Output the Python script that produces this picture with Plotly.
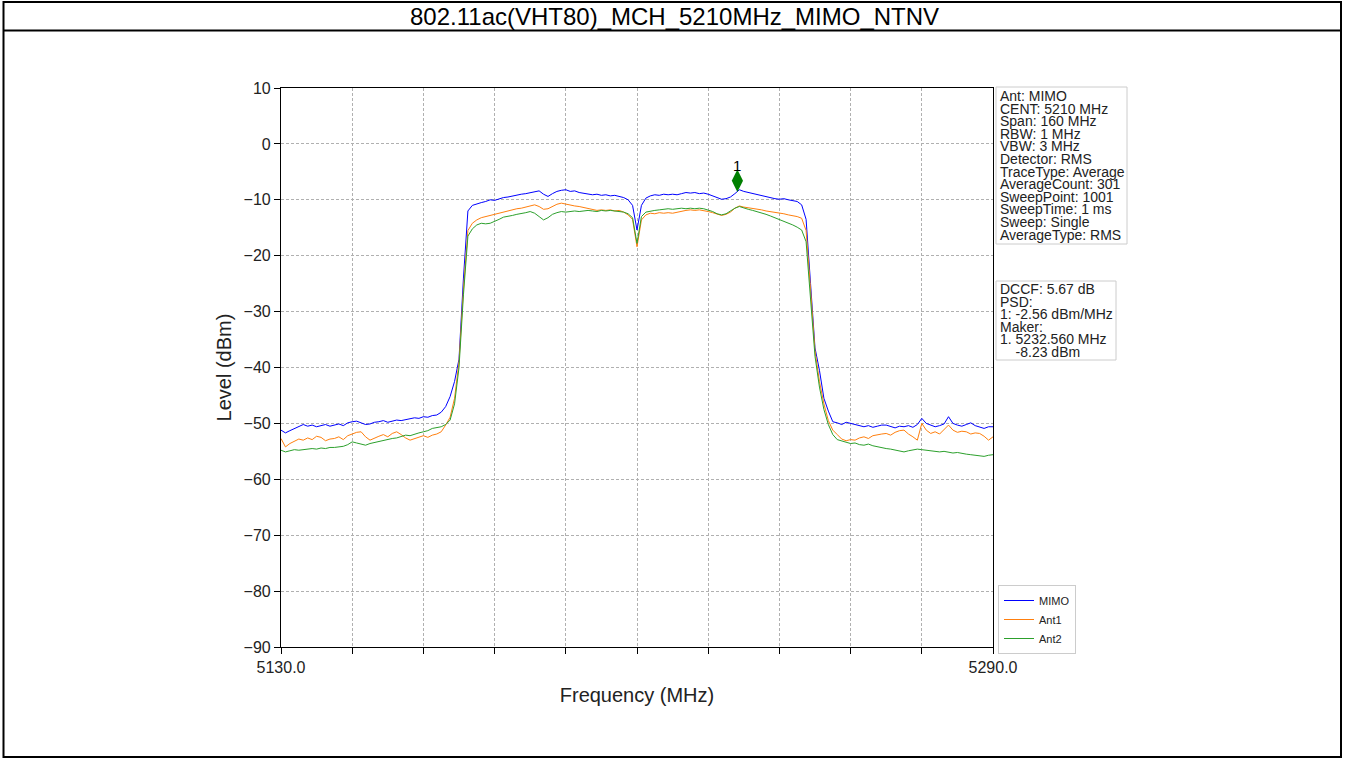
import plotly.graph_objects as go

# ---------------- data ----------------
freq_start = 5130
freq_stop = 5290
freq_mhz = list(range(freq_start, freq_stop + 1))  # 1 MHz spacing

mimo_dbm = [
    -51.2, -51.7, -51.3, -50.9, -50.6, -50.2, -50.5, -50.3, -50.6, -50.4,
    -50.2, -50.5, -50.3, -50.1, -50.4, -49.9, -49.7, -49.6, -49.9, -50.2,
    -50.1, -49.8, -49.7, -49.5, -49.8, -49.6, -49.4, -49.5, -49.3, -49.2,
    -49.0, -49.1, -48.8, -48.9, -48.6, -48.5, -48.0, -47.0, -45.2, -42.5,
    -38.5, -24.0, -12.0, -11.0, -10.7, -10.5, -10.3, -10.0, -10.1, -9.8,
    -9.6, -9.5, -9.3, -9.1, -9.0, -8.9, -8.7, -8.5, -8.4, -9.0,
    -9.4, -8.9, -8.5, -8.3, -8.2, -8.5, -8.4, -8.7, -8.8, -8.9,
    -9.1, -9.0, -9.2, -9.1, -9.3, -9.2, -9.4, -9.6, -10.0, -11.0,
    -15.4, -11.0, -9.7, -9.3, -9.1, -9.2, -9.0, -9.1, -9.0, -9.1,
    -8.9, -8.7, -8.8, -8.7, -8.9, -8.8, -9.0, -9.3, -9.6, -9.9,
    -9.8, -9.5, -8.9, -8.2, -8.5, -8.7, -8.8, -9.0, -9.2, -9.4,
    -9.6, -9.8, -9.9, -9.8, -10.0, -10.1, -10.3, -10.9, -13.5, -25.0,
    -36.5, -40.5, -45.5, -47.8, -49.7, -49.9, -50.2, -49.8, -50.0, -50.3,
    -50.5, -50.6, -50.4, -50.7, -50.5, -50.3, -50.3, -50.6, -50.8, -50.5,
    -50.6, -50.4, -50.7, -50.2, -49.1, -50.0, -50.3, -50.6, -50.4, -50.1,
    -48.8, -50.0, -50.3, -50.5, -50.2, -49.9, -50.4, -50.7, -50.9, -50.6,
    -50.6,
]

ant1_dbm = [
    -52.7, -54.2, -53.6, -53.2, -52.8, -53.0, -52.6, -52.9, -52.3, -52.5,
    -53.1, -52.8, -52.7, -52.4, -52.9, -52.2, -51.9, -51.6, -51.5, -52.4,
    -53.0, -52.6, -52.3, -52.0, -52.4, -51.8, -51.5, -52.0, -52.6, -53.0,
    -52.7, -52.4, -52.2, -52.5, -52.1, -51.9, -51.5, -50.3, -48.9, -45.5,
    -39.0, -26.0, -15.5, -14.2, -13.6, -13.2, -13.0, -12.7, -12.6, -12.3,
    -12.2, -12.0, -11.8, -11.6, -11.5, -11.3, -11.1, -10.9, -11.2, -11.7,
    -11.6, -11.2, -10.8, -10.6, -10.8, -10.9, -11.1, -11.2, -11.4, -11.6,
    -11.7, -11.9, -11.8, -11.9, -11.8, -12.0, -11.9, -12.2, -12.7, -13.5,
    -18.4, -13.6, -12.7, -12.4, -12.5, -12.3, -12.4, -12.3, -12.4, -12.2,
    -12.0, -11.9, -11.8, -11.9, -11.8, -11.9, -12.1, -12.3, -12.6, -12.8,
    -12.6, -12.2, -11.5, -11.1, -11.3, -11.4, -11.6, -11.6, -11.8, -12.0,
    -12.1, -12.3, -12.4, -12.5, -12.7, -12.8, -13.0, -13.3, -15.5, -26.0,
    -37.0, -42.5, -46.5, -49.5, -51.2, -52.0, -52.8, -53.1, -52.9, -53.0,
    -52.6, -52.4, -52.7, -52.2, -52.0, -51.9, -51.8, -52.1, -51.6, -51.3,
    -51.2, -51.9, -52.4, -53.0, -50.0, -51.2, -51.8, -51.5, -51.9, -51.0,
    -50.3, -51.2, -51.6, -51.4, -51.5, -51.9, -51.7, -51.8, -52.3, -53.0,
    -52.4,
]

ant2_dbm = [
    -54.8, -55.1, -54.9, -54.7, -54.8, -54.7, -54.6, -54.5, -54.6, -54.4,
    -54.5, -54.3, -54.3, -54.2, -54.1, -53.8, -53.3, -53.5, -53.7, -53.9,
    -53.6, -53.4, -53.2, -53.0, -52.9, -52.7, -52.6, -52.3, -52.1, -52.2,
    -51.9, -51.7, -51.5, -51.3, -50.9, -50.8, -50.6, -50.2, -49.4, -46.5,
    -40.0, -27.0, -16.5, -15.2, -14.5, -14.2, -14.3, -14.2, -13.9, -13.5,
    -13.1, -13.0, -12.8, -12.6, -12.5, -12.3, -12.1, -12.4, -13.0, -13.6,
    -13.2, -12.6, -12.3, -12.1, -12.2, -12.1, -12.0, -12.1, -12.0, -11.9,
    -12.0, -12.1, -11.9, -12.0, -11.9, -12.0, -12.1, -12.2, -12.5, -13.2,
    -17.8, -13.0, -12.2, -12.0, -11.9, -11.8, -11.7, -11.6, -11.7, -11.6,
    -11.5, -11.6, -11.5, -11.6, -11.5, -11.6, -11.8, -12.1, -12.5, -12.7,
    -12.5, -12.0, -11.5, -11.2, -11.5, -11.7, -11.9, -12.1, -12.3, -12.6,
    -12.9, -13.2, -13.6, -13.9, -14.2, -14.5, -14.9, -15.4, -17.5, -27.5,
    -38.0, -43.5, -47.5, -50.2, -52.0, -52.9, -53.1, -53.3, -53.6, -53.5,
    -53.8, -53.9, -53.7, -54.0, -54.2, -54.3, -54.5, -54.6, -54.8, -55.0,
    -55.1, -54.9, -54.7, -54.6, -54.7, -54.8, -55.0, -55.1, -55.1, -55.0,
    -55.2, -55.3, -55.2, -55.4, -55.5, -55.6, -55.7, -55.8, -55.9, -55.7,
    -55.6,
]

series_names = ["MIMO", "Ant1", "Ant2"]
series_colors = ["#0000ff", "#ff7f0e", "#2ca02c"]

marker_freq = 5232.56
marker_shown_level = -6.6
marker_label = "1"

x_tick_values = [5130, 5146, 5162, 5178, 5194, 5210, 5226, 5242, 5258, 5274, 5290]
x_tick_labels = ["5130.0", "", "", "", "", "", "", "", "", "", "5290.0"]
y_tick_values = [10, 0, -10, -20, -30, -40, -50, -60, -70, -80, -90]

page_title = "802.11ac(VHT80)_MCH_5210MHz_MIMO_NTNV"
info_lines = [
    "Ant: MIMO", "CENT: 5210 MHz", "Span: 160 MHz", "RBW: 1 MHz", "VBW: 3 MHz",
    "Detector: RMS", "TraceType: Average", "AverageCount: 301",
    "SweepPoint: 1001", "SweepTime: 1 ms", "Sweep: Single", "AverageType: RMS",
]
result_lines = [
    "DCCF: 5.67 dB", "PSD:", "1: -2.56 dBm/MHz", "Maker:",
    "1. 5232.560 MHz", "&nbsp;&nbsp;&nbsp;&nbsp;-8.23 dBm",
]

# ---------------- layout geometry (pixels) ----------------
W, H = 1345, 759
PL, PR, PT, PB = 281, 993, 88, 647


def px(x):
    return (x - PL) / (PR - PL)


def py(y):
    return (PB - y) / (PB - PT)


FONT = "Liberation Sans, Arial, sans-serif"
TXT = "#222222"

fig = go.Figure()
for name, color, vals in zip(series_names, series_colors, [mimo_dbm, ant1_dbm, ant2_dbm]):
    fig.add_trace(go.Scatter(x=freq_mhz, y=vals, mode="lines", name=name,
                             line=dict(color=color, width=1)))

fig.add_trace(go.Scatter(x=[marker_freq], y=[marker_shown_level], mode="markers",
                         marker=dict(symbol="diamond-tall", size=16, color="#007f00",
                                     line=dict(width=0)),
                         showlegend=False, hoverinfo="skip"))

annotations = [
    dict(x=marker_freq, y=marker_shown_level, xref="x", yref="y", text=marker_label,
         showarrow=False, yshift=15, font=dict(size=15, color="#000000", family=FONT)),
    dict(x=px(674), y=py(16), xref="paper", yref="paper", xanchor="center",
         yanchor="middle", text=page_title, showarrow=False,
         font=dict(size=24, color="#000000", family=FONT)),
]

for i, line in enumerate(info_lines):
    annotations.append(dict(x=px(999), y=py(96 + i * 12.6), xref="paper", yref="paper",
                            xanchor="left", yanchor="middle", text=line, showarrow=False,
                            borderpad=0,
                            font=dict(size=14, color=TXT, family=FONT)))
for i, line in enumerate(result_lines):
    annotations.append(dict(x=px(999), y=py(289 + i * 12.6), xref="paper", yref="paper",
                            xanchor="left", yanchor="middle", text=line, showarrow=False,
                            borderpad=0,
                            font=dict(size=14, color=TXT, family=FONT)))

shapes = [
    # document frame
    dict(type="rect", xref="paper", yref="paper", x0=px(3.5), x1=px(1341), y0=py(2), y1=py(757),
         line=dict(color="#000000", width=2), layer="below"),
    dict(type="line", xref="paper", yref="paper", x0=px(3.5), x1=px(1341), y0=py(30.5), y1=py(30.5),
         line=dict(color="#000000", width=2), layer="below"),
    # info boxes
    dict(type="rect", xref="paper", yref="paper", x0=px(996), x1=px(1127), y0=py(87), y1=py(244),
         line=dict(color="#cccccc", width=1), fillcolor="white"),
    dict(type="rect", xref="paper", yref="paper", x0=px(996), x1=px(1116), y0=py(281), y1=py(360),
         line=dict(color="#cccccc", width=1), fillcolor="white"),
]

axis_common = dict(showline=True, linecolor="#000000", linewidth=1.2, mirror=True,
                   ticks="outside", ticklen=6, tickcolor="#000000", tickwidth=1,
                   showgrid=True, gridcolor="#b0b0b0", gridwidth=0.8, griddash="3px,2px",
                   zeroline=False)

fig.update_layout(
    width=W, height=H, autosize=False,
    margin=dict(l=PL, r=W - PR, t=PT, b=H - PB),
    paper_bgcolor="white", plot_bgcolor="white",
    xaxis=dict(range=[freq_start, freq_stop], tickvals=x_tick_values, ticktext=x_tick_labels,
               tickfont=dict(size=16, color=TXT, family=FONT),
               title=dict(text="Frequency (MHz)", font=dict(size=20, color=TXT, family=FONT),
                          standoff=12),
               **axis_common),
    yaxis=dict(range=[-90, 10], tickvals=y_tick_values,
               tickfont=dict(size=16, color=TXT, family=FONT),
               title=dict(text="Level (dBm)", font=dict(size=20, color=TXT, family=FONT),
                          standoff=6),
               **axis_common),
    legend=dict(x=px(998), y=py(585), xanchor="left", yanchor="top",
                bordercolor="#cccccc", borderwidth=1, bgcolor="white",
                font=dict(size=11, color=TXT, family=FONT), tracegroupgap=0),
    annotations=annotations,
    shapes=shapes,
    showlegend=True,
)

fig.write_html("out.html", config={"displayModeBar": False},
               post_script="document.body.style.margin='0px';document.body.style.overflow='hidden';")
